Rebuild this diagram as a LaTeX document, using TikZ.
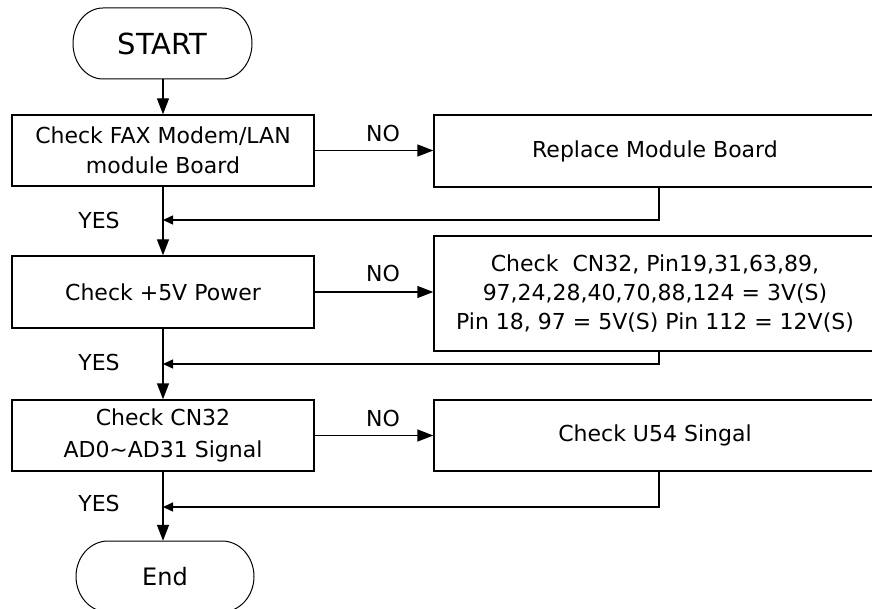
\documentclass[tikz,border=0pt]{standalone}
\usepackage{fontspec}
\setmainfont{DejaVu Sans}
\usetikzlibrary{arrows.meta,calc}
\begin{document}
\begin{tikzpicture}[x=1pt,y=-1pt,
  box/.style={draw, line width=1.4pt, inner sep=0pt, align=center, font=\fontsize{22}{30}\selectfont},
  lbl/.style={inner sep=0pt, font=\fontsize{22}{26}\selectfont},
  arr/.style={line width=1.4pt, -{Triangle[length=16pt,width=12pt]}},
  retarr/.style={line width=1.4pt, -{Triangle[length=10pt,width=9pt]}},
  term/.style={line width=1pt}]
\useasboundingbox (0,0) rectangle (872,609);
\clip (0,0) rectangle (872,609);
\fill[white] (0,0) rectangle (872,609);

% terminals
\node[inner sep=0pt, minimum width=179pt, minimum height=71pt, font=\fontsize{29}{29}\selectfont] (start) at (162.5,43.5) {START};
\draw[term] (103,8) -- (222,8) arc[start angle=-90, end angle=90, x radius=30, y radius=35.5] -- (103,79) arc[start angle=90, end angle=270, x radius=30, y radius=35.5] -- cycle;

\node[inner sep=0pt, minimum width=178pt, minimum height=71pt, font=\fontsize{24}{24}\selectfont] (end) at (165,576.5) {End};
\draw[term] (108,541) -- (222,541) arc[start angle=-90, end angle=90, x radius=32, y radius=35.5] -- (108,612) arc[start angle=90, end angle=270, x radius=32, y radius=35.5] -- cycle;

% process boxes
\node[box, minimum width=302pt, minimum height=71pt] (b1) at (163,150.5) {Check FAX Modem/LAN\\module Board};
\node[box, minimum width=442pt, minimum height=72pt] (b2) at (655,151) {Replace Module Board};
\node[box, minimum width=302pt, minimum height=72pt] (b3) at (163,292) {Check +5V Power};
\node[box, minimum width=442pt, minimum height=115pt, font=\fontsize{22}{29}\selectfont] (b4) at (655,293.5) {Check\ \ CN32, Pin19,31,63,89,\\97,24,28,40,70,88,124 = 3V(S)\\Pin 18, 97 = 5V(S) Pin 112 = 12V(S)};
\node[box, minimum width=302pt, minimum height=71pt, font=\fontsize{22}{32}\selectfont] (b5) at (163,435.5) {Check CN32\\AD0\textasciitilde AD31 Signal};
\node[box, minimum width=442pt, minimum height=71pt] (b6) at (655,435.5) {Check U54 Singal};

% labels
\node[lbl] (no1) at (383,133) {NO};
\node[lbl] (no2) at (383,273) {NO};
\node[lbl] (no3) at (383,418) {NO};
\node[lbl] (yes1) at (99,220) {YES};
\node[lbl] (yes2) at (99,362) {YES};
\node[lbl] (yes3) at (99,503) {YES};

% main flow
\draw[arr] (b1.north |- start.south) -- (b1.north);
\draw[arr] (b1.south) -- (b3.north);
\draw[arr] (b3.south) -- (b5.north);
\draw[arr] (b5.south) -- (b5.south |- end.north);

% NO branches
\draw[arr] (b1.east) -- (b1.east -| b2.west);
\draw[arr] (b3.east) -- (b3.east -| b4.west);
\draw[arr] (b5.east) -- (b5.east -| b6.west);

% returns
\coordinate (j1) at (163,220);
\coordinate (j2) at (163,364);
\coordinate (j3) at (163,507);
\coordinate (r1) at (659,220);
\coordinate (r2) at (659,364);
\coordinate (r3) at (659,507);
\draw[retarr] (r1 |- b2.south) |- (j1);
\draw[retarr] (r2 |- b4.south) |- (j2);
\draw[retarr] (r3 |- b6.south) |- (j3);
\end{tikzpicture}
\end{document}
